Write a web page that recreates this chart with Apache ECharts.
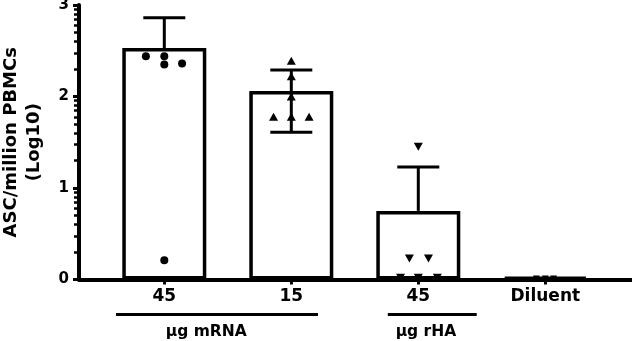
<!DOCTYPE html>
<html>
<head>
<meta charset="utf-8">
<script src="https://cdn.jsdelivr.net/npm/echarts@6/dist/echarts.min.js"></script>
<style>html,body{margin:0;padding:0;background:#fff;}#c{width:632px;height:341px;}</style>
</head>
<body>
<div id="c"></div>
<script>
// ---- data ----
var categories = ['45', '15', '45', 'Diluent'];
var categoryX = [1, 2, 3, 4];
var means = [2.53, 2.06, 0.75, 0.03];
var errHigh = [2.86, 2.29, 1.23, null];
var errLow = [null, 1.61, null, null];

var mrna45Values = [2.44, 2.44, 2.35, 2.36, 0.21];
var mrna45Jitter = [-0.145, 0, 0, 0.14, 0];
var mrna15Values = [2.39, 2.22, 2.0, 1.78, 1.78, 1.78];
var mrna15Jitter = [0, 0, 0, -0.14, 0, 0.14];
var rha45Values = [1.45, 0.23, 0.23, 0.02, 0.02, 0.02];
var rha45Jitter = [0, -0.07, 0.08, -0.14, 0, 0.15];
var diluentValues = [0.01, 0.01, 0.01];
var diluentJitter = [-0.07, 0, 0.065];

var yMinorTicks = [];
[0, 1, 2].forEach(function (d) {
  [2, 3, 4, 5, 6, 7, 8, 9].forEach(function (k) { yMinorTicks.push(d + Math.log10(k)); });
});

var groupLabels = ['\u03bcg mRNA', '\u03bcg rHA'];
var groupStart = [0.62, 2.76];
var groupEnd = [2.21, 3.46];
var groupLabelX = [1.33, 3.06];

// ---- build ----
function pts(xc, vals, jit) {
  return vals.map(function (v, i) { return [xc + jit[i], v]; });
}
var FONT = 'DejaVu Sans';

var option = {
  animation: false,
  backgroundColor: '#fff',
  grid: { left: 79, right: 0, top: 5, bottom: 61.5, containLabel: false, outerBoundsMode: 'none' },
  xAxis: {
    type: 'value',
    min: 1 - 85.3 / 127,
    max: 1 - 85.3 / 127 + 553 / 127,
    axisLine: { show: true, onZero: false, lineStyle: { color: '#000', width: 4 } },
    axisTick: { show: true, customValues: categoryX, length: 5, lineStyle: { color: '#000', width: 3 } },
    axisLabel: {
      customValues: categoryX, margin: 9,
      formatter: function (v) { return categories[Math.round(v) - 1]; },
      color: '#000', fontFamily: FONT, fontWeight: 'bold', fontSize: 17
    },
    splitLine: { show: false }
  },
  yAxis: [{
    type: 'value', min: 0, max: 3, interval: 1,
    name: 'ASC/million PBMCs\n(Log10)',
    nameLocation: 'middle', nameGap: 33,
    nameTextStyle: { color: '#000', fontFamily: FONT, fontWeight: 'bold', fontSize: 18, lineHeight: 23 },
    axisLine: { show: true, lineStyle: { color: '#000', width: 4 } },
    axisTick: { show: true, length: 6, lineStyle: { color: '#000', width: 3 } },
    axisLabel: { color: '#000', fontFamily: FONT, fontWeight: 'bold', fontSize: 15, margin: 10 },
    splitLine: { show: false }
  }, {
    type: 'value', min: 0, max: 3, position: 'left', offset: 0,
    axisLine: { show: false },
    axisTick: { show: true, customValues: yMinorTicks, length: 5, lineStyle: { color: '#000', width: 2.5 } },
    axisLabel: { show: false },
    splitLine: { show: false }
  }],
  series: [
    {
      type: 'bar',
      data: categoryX.map(function (x, i) { return [x, means[i]]; }),
      barWidth: 84,
      itemStyle: { color: '#fff', borderColor: '#000', borderWidth: 3.5 },
      z: 2
    },
    {
      type: 'custom',
      data: categoryX.map(function (x, i) { return [x, means[i]]; }),
      renderItem: function (params, api) {
        var x = api.value(0), m = api.value(1);
        var hi = errHigh[params.dataIndex], lo = errLow[params.dataIndex];
        if (hi == null && lo == null) return { type: 'group', children: [] };
        var top = api.coord([x, hi != null ? hi : m]);
        var bot = api.coord([x, lo != null ? lo : m]);
        var half = 21;
        var st = { stroke: '#000', lineWidth: 3 };
        var ch = [{ type: 'line', shape: { x1: top[0], y1: top[1], x2: bot[0], y2: bot[1] }, style: st }];
        if (hi != null) ch.push({ type: 'line', shape: { x1: top[0] - half, y1: top[1], x2: top[0] + half, y2: top[1] }, style: st });
        if (lo != null) ch.push({ type: 'line', shape: { x1: bot[0] - half, y1: bot[1], x2: bot[0] + half, y2: bot[1] }, style: st });
        return { type: 'group', children: ch };
      },
      z: 3
    },
    { type: 'scatter', data: pts(categoryX[0], mrna45Values, mrna45Jitter), symbol: 'circle', symbolSize: 8, itemStyle: { color: '#000', opacity: 1 }, z: 4 },
    { type: 'scatter', data: pts(categoryX[1], mrna15Values, mrna15Jitter), symbol: 'triangle', symbolSize: [9, 8], itemStyle: { color: '#000', opacity: 1 }, z: 4 },
    { type: 'scatter', data: pts(categoryX[2], rha45Values, rha45Jitter), symbol: 'triangle', symbolRotate: 180, symbolSize: [9, 8], itemStyle: { color: '#000', opacity: 1 }, z: 4 },
    { type: 'scatter', data: pts(categoryX[3], diluentValues, diluentJitter), symbol: 'triangle', symbolRotate: 180, symbolSize: [7, 6], itemStyle: { color: '#000', opacity: 1 }, z: 4 },
    {
      type: 'custom',
      clip: false,
      data: groupLabels.map(function (g, i) { return [groupStart[i], groupEnd[i], groupLabelX[i]]; }),
      renderItem: function (params, api) {
        var a = api.coord([api.value(0), 0]);
        var b = api.coord([api.value(1), 0]);
        var c = api.coord([api.value(2), 0]);
        return {
          type: 'group',
          children: [
            { type: 'line', shape: { x1: a[0], y1: a[1] + 35, x2: b[0], y2: b[1] + 35 }, style: { stroke: '#000', lineWidth: 3 } },
            { type: 'text', x: c[0], y: c[1] + 52, style: { text: groupLabels[params.dataIndex], fill: '#000', font: 'bold 15.5px "DejaVu Sans"', textAlign: 'center', textVerticalAlign: 'middle' } }
          ]
        };
      },
      z: 5
    }
  ]
};
var chart = echarts.init(document.getElementById('c'), null, { renderer: 'canvas' });
chart.setOption(option);
</script>
</body>
</html>
